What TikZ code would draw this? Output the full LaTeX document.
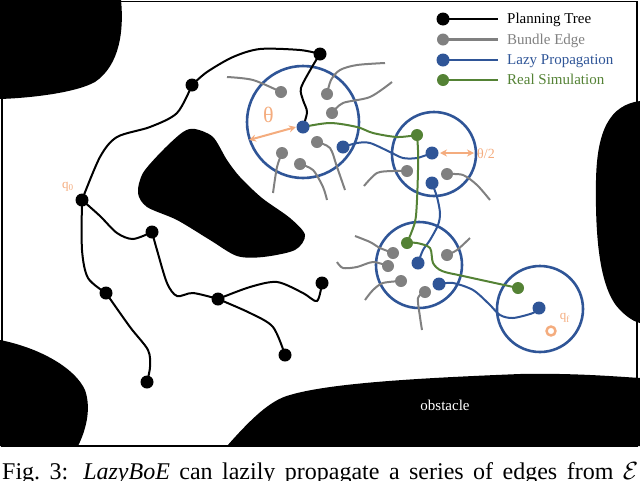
\documentclass[tikz,border=0pt]{standalone}
\usepackage{fontspec}
\setmainfont{Liberation Serif}
\usetikzlibrary{arrows.meta}
\definecolor{pblue}{HTML}{2F5597}
\definecolor{pgreen}{HTML}{548235}
\definecolor{pgray}{HTML}{808080}
\definecolor{porange}{HTML}{F4AC7E}
\pgfdeclarelayer{bg}\pgfdeclarelayer{edges}\pgfsetlayers{bg,edges,main}
\begin{document}
\begin{tikzpicture}[x=1pt,y=-1pt,
 kdot/.style={circle,fill=black,inner sep=0pt,minimum size=13pt},
 gdot/.style={circle,fill=pgray,inner sep=0pt,minimum size=12pt},
 bdot/.style={circle,fill=pblue,inner sep=0pt,minimum size=13pt},
 ndot/.style={circle,fill=pgreen,inner sep=0pt,minimum size=12pt},
 zone/.style={circle,draw=pblue,line width=2.6pt,inner sep=0pt},
 ptree/.style={line width=2pt,draw=black},
 bund/.style={line width=2pt,draw=pgray},
 lazy/.style={line width=2pt,draw=pblue},
 real/.style={line width=2pt,draw=pgreen},
 thetaarr/.style={draw=porange,line width=2pt,{Stealth[length=7pt,width=7pt]}-{Stealth[length=7pt,width=7pt]}},
 lab/.style={inner sep=0pt,font=\fontsize{15}{18}\selectfont},
 olab/.style={inner sep=0pt,text=porange},
 line join=round, line cap=round]
\useasboundingbox (0,0) rectangle (640,480);

% ---------- frame and obstacles ----------
\begin{pgfonlayer}{bg}
\draw[line width=1.5pt] (2,1.5) rectangle (637,446);
\fill[black] (0,0) -- (121,0) .. controls (124,30) and (120,65) .. (95,82)
  .. controls (75,93) and (30,98) .. (0,99) -- cycle;
\fill[black] plot[smooth cycle] coordinates {(195,129) (213,137) (227,160) (240,177) (262,198) (290,218) (305,235) (295,250) (263,257) (237,256) (210,240) (177,220) (147,207) (138,193) (143,173) (163,150) (183,132)};
\fill[black] (0,340) .. controls (40,348) and (75,368) .. (85,390)
  .. controls (92,410) and (85,432) .. (78,446) -- (0,446) -- cycle;
\fill[black] (227,446) .. controls (250,420) and (270,400) .. (290,395)
  .. controls (330,383) and (420,378) .. (520,374)
  .. controls (570,373) and (610,376) .. (640,378) -- (640,446) -- cycle;
\fill[black] (640,101) .. controls (610,105) and (597,130) .. (596,180)
  .. controls (595,240) and (600,290) .. (620,310)
  .. controls (628,318) and (635,322) .. (640,323) -- cycle;
\end{pgfonlayer}
\node[lab,text=white,anchor=base] (obs) at (445,410) {obstacle};

% ---------- nodes ----------
% planning tree
\node[kdot] (q0) at (82,200) {};
\node[kdot] (tA) at (192,85) {};
\node[kdot] (tB) at (320,54) {};
\node[kdot] (tC) at (152,232) {};
\node[kdot] (tD) at (106,293) {};
\node[kdot] (tE) at (218,299) {};
\node[kdot] (tF) at (322,283) {};
\node[kdot] (tG) at (285,355) {};
\node[kdot] (tH) at (147,382) {};
% zones
\begin{pgfonlayer}{edges}
\node[zone,minimum size=112pt] (Z1) at (303,122) {};
\node[zone,minimum size=84pt] (Z2) at (434,154) {};
\node[zone,minimum size=86pt] (Z3) at (419,265) {};
\node[zone,minimum size=86pt] (Z4) at (540,309) {};
\end{pgfonlayer}
% blue
\node[bdot] (L1) at (303,127) {};
\node[bdot] (L1b) at (343,147) {};
\node[bdot] (L2) at (432,153) {};
\node[bdot] (L2b) at (432,183) {};
\node[bdot] (L3) at (418,263) {};
\node[bdot] (L3b) at (439,284) {};
\node[bdot] (L4) at (539,308) {};
% green
\node[ndot] (N2) at (417,135) {};
\node[ndot] (N3) at (407,243) {};
\node[ndot] (N4) at (518,288) {};
% gray
\node[gdot] (gA) at (281,92) {};
\node[gdot] (gB) at (327,94) {};
\node[gdot] (gC) at (332,113) {};
\node[gdot] (gD) at (317,142) {};
\node[gdot] (gE) at (282,153) {};
\node[gdot] (gF) at (300,164) {};
\node[gdot] (gG) at (407,171) {};
\node[gdot] (gH) at (447,174) {};
\node[gdot] (gI) at (393,253) {};
\node[gdot] (gJ) at (388,266) {};
\node[gdot] (gK) at (401,281) {};
\node[gdot] (gL) at (425,292) {};
\node[gdot] (gM) at (447,255) {};
% goal
\node[circle,draw=porange,line width=2.5pt,inner sep=0pt,minimum size=9pt] (qf) at (551,331) {};

% free ends
\coordinate (eA) at (227,77);
\coordinate (eB) at (385,63);
\coordinate (eC) at (392,82);
\coordinate (eD) at (345,190);
\coordinate (eE) at (273,193);
\coordinate (eF) at (327,200);
\coordinate (eG) at (364,186);
\coordinate (eH) at (490,200);
\coordinate (eI) at (355,236);
\coordinate (eJ) at (337,262);
\coordinate (eK) at (365,300);
\coordinate (eL) at (422,330);
\coordinate (eM) at (470,238);

% ---------- edges ----------
\begin{pgfonlayer}{edges}
\draw[ptree] plot[smooth] coordinates {(q0.center) (100,157) (117,137) (150,127) (177,113) (tA.center)};
\draw[ptree] plot[smooth] coordinates {(tA.center) (207,72) (233,57) (260,49) (300,50) (tB.center)};
\draw[ptree] plot[smooth] coordinates {(tB.center) (312,67) (301,88) (303,100) (307,112) (L1.center)};
\draw[ptree] plot[smooth] coordinates {(q0.center) (100,216) (117,233) (133,239) (tC.center)};
\draw[ptree] plot[smooth] coordinates {(q0.center) (82,250) (88,278) (tD.center)};
\draw[ptree] plot[smooth] coordinates {(tD.center) (130,327) (148,350) (150,367) (tH.center)};
\draw[ptree] plot[smooth] coordinates {(tC.center) (157,250) (167,283) (177,296) (193,293) (tE.center)};
\draw[ptree] plot[smooth] coordinates {(tE.center) (250,287) (277,282) (303,293) (317,301) (tF.center)};
\draw[ptree] plot[smooth] coordinates {(tE.center) (250,313) (273,327) (tG.center)};

\draw[bund] plot[smooth] coordinates {(gA.center) (253,80) (eA)};
\draw[bund] plot[smooth] coordinates {(gB.center) (331,80) (340,70) (357,65) (eB)};
\draw[bund] plot[smooth] coordinates {(gC.center) (343,103) (370,97) (eC)};
\draw[bund] plot[smooth] coordinates {(gD.center) (330,148) (337,167) (eD)};
\draw[bund] plot[smooth] coordinates {(gE.center) (277,167) (eE)};
\draw[bund] plot[smooth] coordinates {(gF.center) (313,170) (323,187) (eF)};
\draw[bund] plot[smooth] coordinates {(gG.center) (393,171) (377,173) (eG)};
\draw[bund] plot[smooth] coordinates {(gH.center) (463,175) (477,185) (eH)};
\draw[bund] plot[smooth] coordinates {(gI.center) (380,248) (370,242) (eI)};
\draw[bund] plot[smooth] coordinates {(gJ.center) (373,262) (357,267) (343,268) (eJ)};
\draw[bund] plot[smooth] coordinates {(gK.center) (383,283) (373,290) (eK)};
\draw[bund] plot[smooth] coordinates {(gL.center) (418,298) (420,317) (eL)};
\draw[bund] plot[smooth] coordinates {(gM.center) (457,250) (eM)};

\draw[lazy] plot[smooth] coordinates {(L1b.center) (357,143) (370,143) (390,152) (403,158) (417,158) (L2.center)};
\draw[lazy] plot[smooth] coordinates {(L2b.center) (437,197) (440,213) (438,225) (430,240) (423,250) (L3.center)};
\draw[lazy] plot[smooth] coordinates {(L3b.center) (453,283) (473,290) (489,304) (500,315) (513,318) (533,313) (L4.center)};

\draw[real] plot[smooth] coordinates {(L1.center) (330,123) (357,127) (373,133) (397,137) (N2.center)};
\draw[real] plot[smooth] coordinates {(N2.center) (418,150) (418,170) (417,200) (415,222) (N3.center)};
\draw[real] plot[smooth] coordinates {(N3.center) (417,243) (430,248) (433,263) (442,271) (463,276) (N4.center)};
\end{pgfonlayer}

% ---------- theta arrows and labels ----------
\coordinate (th1a) at (249,140);
\coordinate (th1b) at (296,127);
\draw[thetaarr] (th1a) -- (th1b);
\coordinate (th2a) at (440,153);
\coordinate (th2b) at (474,153);
\draw[thetaarr] (th2a) -- (th2b);
\node[olab,font=\fontsize{22}{24}\selectfont] (thl) at (268.5,115) {θ};
\node[olab,font=\fontsize{14}{16}\selectfont] (th2l) at (486,154) {θ/2};
\node[olab,font=\fontsize{13}{15}\selectfont] (q0l) at (68,187) {q\textsubscript{0}};
\node[olab,font=\fontsize{13}{15}\selectfont] (qfl) at (565,318) {q\textsubscript{f}};

% ---------- legend ----------
\node[kdot] (k1) at (443,19) {};
\node[gdot] (k2) at (443,39.5) {};
\node[bdot] (k3) at (443,60) {};
\node[ndot] (k4) at (443,80) {};
\coordinate (k1e) at (498,19);
\coordinate (k2e) at (498,39.5);
\coordinate (k3e) at (498,60);
\coordinate (k4e) at (498,80);
\begin{pgfonlayer}{edges}
\draw[ptree,line width=2.6pt] (k1.center) -- (k1e);
\draw[bund,line width=2.6pt] (k2.center) -- (k2e);
\draw[lazy,line width=2.6pt] (k3.center) -- (k3e);
\draw[real,line width=2.6pt] (k4.center) -- (k4e);
\end{pgfonlayer}
\node[lab,anchor=base west] (t1) at (507,23.5) {Planning Tree};
\node[lab,anchor=base west,text=pgray] (t2) at (507,44) {Bundle Edge};
\node[lab,anchor=base west,text=pblue] (t3) at (507,64.5) {Lazy Propagation};
\node[lab,anchor=base west,text=pgreen] (t4) at (507,84.5) {Real Simulation};

% ---------- caption ----------
\node[anchor=base west,inner sep=0pt,font=\fontsize{24}{28}\selectfont] (cap) at (2,479)
  {\makebox[636pt][s]{Fig.\ 3: \textit{LazyBoE} can lazily propagate a series of edges from $\mathcal{E}$}};
\end{tikzpicture}
\end{document}
